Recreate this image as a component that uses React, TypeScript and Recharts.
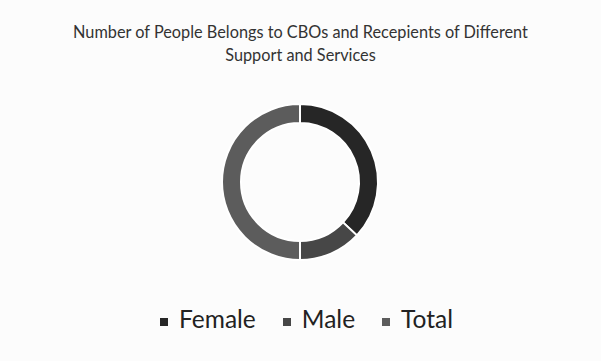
import React from "react";
import { PieChart, Pie, Cell, Legend } from "recharts";

const categories = ["Female", "Male", "Total"];
const values = [74, 26, 100];
const colors = ["#262626", "#474747", "#5c5c5c"];
const titleLines = [
  "Number of People Belongs to CBOs and Recepients of Different",
  "Support and Services",
];

const data = categories.map((name, i) => ({ name, value: values[i] }));

export default function App() {
  return (
    <div
      style={{
        position: "fixed",
        left: 0,
        top: 0,
        width: 601,
        height: 361,
        background: "#fcfcfc",
        fontFamily: "Lato, 'Open Sans', sans-serif",
      }}
    >
      <div
        style={{
          position: "absolute",
          top: 20,
          left: 0,
          width: 601,
          textAlign: "center",
          fontSize: 16.3,
          lineHeight: "23px",
          color: "#333",
        }}
      >
        {titleLines.map((t) => (
          <div key={t}>{t}</div>
        ))}
      </div>
      <PieChart
        width={601}
        height={361}
        margin={{ top: 0, right: 0, bottom: 0, left: 0 }}
        style={{ position: "absolute", left: 0, top: 0 }}
      >
        <Pie
          data={data}
          dataKey="value"
          nameKey="name"
          cx={300}
          cy={182}
          innerRadius={59}
          outerRadius={78}
          startAngle={90}
          endAngle={-270}
          stroke="#ffffff"
          strokeWidth={2}
          isAnimationActive={false}
        >
          {data.map((d, i) => (
            <Cell key={d.name} fill={colors[i]} />
          ))}
        </Pie>
        <Legend
          verticalAlign="bottom"
          align="center"
          iconType="square"
          iconSize={8}
          wrapperStyle={{
            bottom: 28,
            left: 140,
            width: 360,
            fontSize: 24.5,
            fontFamily: "Lato, 'Open Sans', sans-serif",
          }}
          formatter={(value: string) => (
            <span style={{ color: "#222", marginLeft: 7, marginRight: 17 }}>{value}</span>
          )}
        />
      </PieChart>
    </div>
  );
}
